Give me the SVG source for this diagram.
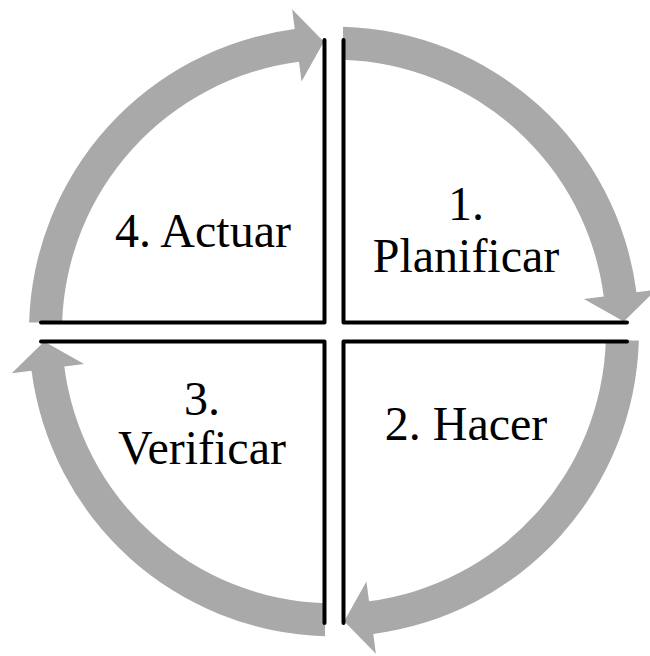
<svg xmlns="http://www.w3.org/2000/svg" width="650" height="656" viewBox="0 0 650 656">
  <style>
    .arc { fill: #A9A9A9; stroke: none; }
    .edge { fill: none; stroke: #000000; stroke-width: 4; stroke-linejoin: round; stroke-linecap: round; }
    .lbl { font-family: "Liberation Serif", "Times New Roman", serif; font-size: 48px; fill: #000000; text-anchor: middle; }
  </style>
  <defs>
    <path id="arcShape" d="M 9,-304.87 A 305 305 0 0 1 302.46,-39.28 L 322.29,-41.86 L 289.82,-10.12 L 249.90,-32.46 L 269.73,-35.03 A 272 272 0 0 0 9,-271.85 Z"/>
  </defs>
  <rect width="650" height="656" fill="#FFFFFF"/>
  <g id="connectors">
    <use href="#arcShape" class="arc" transform="translate(334,331.5)"/>
    <use href="#arcShape" class="arc" transform="translate(334,331.5) rotate(90)"/>
    <use href="#arcShape" class="arc" transform="translate(334,331.5) rotate(180)"/>
    <use href="#arcShape" class="arc" transform="translate(334,331.5) rotate(270)"/>
  </g>
  <g id="planificar">
    <path class="edge" d="M343.5 40 V322.5 H627"/>
    <text class="lbl" x="466" y="220">1.</text>
    <text class="lbl" x="466" y="272">Planificar</text>
  </g>
  <g id="hacer">
    <path class="edge" d="M343.5 623 V341.5 H627"/>
    <text class="lbl" x="466" y="440">2. Hacer</text>
  </g>
  <g id="verificar">
    <path class="edge" d="M41 341.5 H324.5 V623"/>
    <text class="lbl" x="202" y="415">3.</text>
    <text class="lbl" x="202" y="464">Verificar</text>
  </g>
  <g id="actuar">
    <path class="edge" d="M41 322.5 H324.5 V40"/>
    <text class="lbl" x="203" y="247">4. Actuar</text>
  </g>
</svg>
